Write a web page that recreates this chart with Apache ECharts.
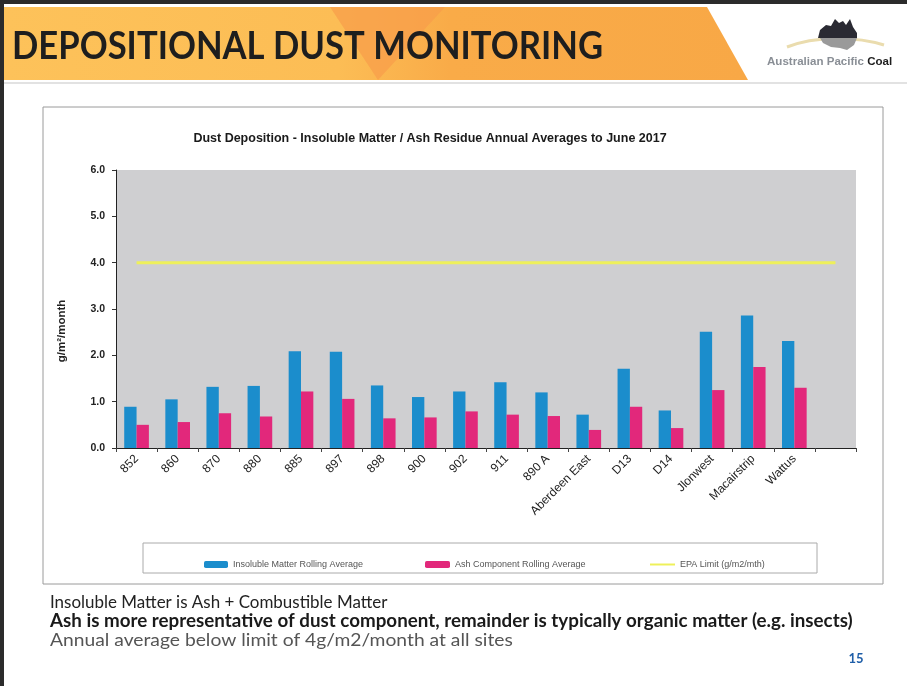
<!DOCTYPE html>
<html>
<head>
<meta charset="utf-8">
<script src="https://cdn.jsdelivr.net/npm/echarts@6/dist/echarts.min.js"></script>
<style>
html,body{margin:0;padding:0;background:#fff;}
#c{width:907px;height:686px;}
</style>
</head>
<body>
<div id="c"></div>
<script>
var categories = ['852','860','870','880','885','897','898','900','902','911','890 A','Aberdeen East','D13','D14','Jlonwest','Macairstrip','Wattus',''];
var insoluble = [0.89,1.05,1.32,1.34,2.09,2.08,1.35,1.10,1.22,1.42,1.20,0.72,1.71,0.81,2.51,2.86,2.31,null];
var ash = [0.50,0.56,0.75,0.68,1.22,1.06,0.64,0.66,0.79,0.72,0.69,0.39,0.89,0.43,1.25,1.75,1.30,null];
var epaLimit = [4,4,4,4,4,4,4,4,4,4,4,4,4,4,4,4,4,4];
var yTicks = [0,1,2,3,4,5,6];

var seriesNames = ['Insoluble Matter Rolling Average','Ash Component Rolling Average','EPA Limit (g/m2/mth)'];

var chart = echarts.init(document.getElementById('c'), null, {renderer:'canvas'});
var legendText = {fontSize:9, color:'#555', fontFamily:'Liberation Sans Narrow, Liberation Sans, Arial'};

var option = {
  backgroundColor:'#ffffff',
  animation:false,
  title:{
    text:'Dust Deposition - Insoluble Matter / Ash Residue Annual Averages to June 2017',
    left:425, top:127, textAlign:'center',
    textStyle:{fontSize:12.5, fontWeight:'bold', color:'#1a1a1a', fontFamily:'Liberation Sans, Arial'}
  },
  legend:[
    {data:[seriesNames[0]], left:199, top:555, itemWidth:24, itemHeight:7, itemGap:3, textStyle:legendText},
    {data:[seriesNames[1]], left:420, top:555, itemWidth:25, itemHeight:7, itemGap:3, textStyle:legendText},
    {data:[{name:seriesNames[2], icon:'rect'}], left:645, top:555, itemWidth:25, itemHeight:2, itemGap:3, textStyle:legendText}
  ],
  grid:{left:116, right:51, top:170, bottom:238, show:true, backgroundColor:'#cfcfd1', borderWidth:0},
  xAxis:{
    type:'category', data:categories, boundaryGap:true,
    axisLine:{lineStyle:{color:'#222', width:1}},
    axisTick:{show:true, length:4, interval:0, lineStyle:{color:'#444'}},
    axisLabel:{interval:0, rotate:45, fontSize:12, color:'#222', margin:9, fontFamily:'Liberation Sans, Arial'},
    splitLine:{show:false}
  },
  yAxis:{
    type:'value', min:0, max:6, interval:1,
    axisLine:{show:true, lineStyle:{color:'#222', width:1}},
    axisTick:{show:true, length:4, lineStyle:{color:'#333'}},
    axisLabel:{formatter:function(v){return v.toFixed(1);}, fontSize:10.5, fontWeight:'bold', color:'#222', margin:11, fontFamily:'Liberation Sans, Arial'},
    splitLine:{show:false}
  },
  series:[
    {name:seriesNames[0], type:'bar', data:insoluble, barWidth:'30%', barGap:'0%', itemStyle:{color:'#1b8dcc'}},
    {name:seriesNames[1], type:'bar', data:ash, barWidth:'30%', barGap:'0%', itemStyle:{color:'#e2287b'}},
    {name:seriesNames[2], type:'line', data:epaLimit, symbol:'none', z:5, lineStyle:{color:'#eef05a', width:3}, itemStyle:{color:'#eef05a'}}
  ],
  graphic:[
    // slide frame
    {type:'rect', shape:{x:0,y:0,width:907,height:4}, style:{fill:'#2b2b2b'}, silent:true},
    {type:'rect', shape:{x:0,y:0,width:4,height:686}, style:{fill:'#2b2b2b'}, silent:true},
    // banner
    {type:'polygon', shape:{points:[[4,7],[707,7],[748,80],[4,80]]}, style:{fill:{type:'linear',x:0,y:0,x2:1,y2:0,colorStops:[{offset:0,color:'#fdc25a'},{offset:0.45,color:'#fcbd55'},{offset:0.6,color:'#f9ab48'},{offset:1,color:'#f8a846'}]}}, silent:true},
    {type:'polygon', shape:{points:[[330,7],[445,7],[378,80]]}, style:{fill:'#f89d4a', opacity:0.7}, silent:true},
    {type:'rect', shape:{x:4,y:82,width:903,height:2}, style:{fill:'#e2e2e2'}, silent:true},
    {type:'text', x:12, y:47, scaleX:0.911, style:{text:'DEPOSITIONAL DUST MONITORING', fill:'#1e1e1e', font:'bold 38px Lato, "Open Sans", sans-serif', textAlign:'left', textVerticalAlign:'middle'}, silent:true},
    // logo
    {type:'bezierCurve', shape:{x1:787,y1:47,x2:884,y2:45,cpx1:815,cpy1:36,cpx2:855,cpy2:36}, style:{stroke:'#eadcae', lineWidth:3, fill:null}, silent:true},
    {type:'polygon', shape:{points:[[818,38],[820,30],[826,25],[831,26],[835,19],[839,23],[843,21],[846,25],[850,19],[853,27],[857,33],[857,38]]}, style:{fill:'#2a2a33'}, silent:true},
    {type:'polygon', shape:{points:[[820,38],[857,38],[854,45],[847,50],[840,48],[831,47],[823,43]]}, style:{fill:'#9a9a9a'}, silent:true},
    {type:'text', x:767, y:62, scaleX:1.1, style:{text:'{a|Australian Pacific }{b|Coal}', textVerticalAlign:'middle', rich:{a:{fontSize:10.5, fontWeight:'bold', fill:'#8a8f96', fontFamily:'Liberation Sans, Arial'}, b:{fontSize:10.5, fontWeight:'bold', fill:'#1e1e1e', fontFamily:'Liberation Sans, Arial'}}}, silent:true},
    // chart box
    {type:'rect', shape:{x:43,y:107,width:840,height:477}, style:{fill:null, stroke:'#9a9a9a', lineWidth:1}, silent:true, z:-1},
    {type:'rect', shape:{x:143,y:543,width:674,height:30}, style:{fill:null, stroke:'#aaaaaa', lineWidth:1}, silent:true},
    // y axis name
    {type:'text', x:62, y:331, rotation:Math.PI/2, style:{text:'g/m\u00b2/month', fill:'#222', font:'bold 11.5px "Liberation Sans", Arial', textAlign:'center', textVerticalAlign:'middle'}, silent:true},
    // notes
    {type:'text', x:50, y:602, scaleX:0.942, style:{text:'Insoluble Matter is Ash + Combustible Matter', fill:'#222', font:'18px Lato, "Open Sans", sans-serif', textAlign:'left', textVerticalAlign:'middle'}, silent:true},
    {type:'text', x:50, y:621, scaleX:1.043, style:{text:'Ash is more representative of dust component, remainder is typically organic matter (e.g. insects)', fill:'#1a1a1a', font:'bold 18px Lato, "Open Sans", sans-serif', textAlign:'left', textVerticalAlign:'middle'}, silent:true},
    {type:'text', x:50, y:640, scaleX:1.07, style:{text:'Annual average below limit of 4g/m2/month at all sites', fill:'#555', font:'18px Lato, "Open Sans", sans-serif', textAlign:'left', textVerticalAlign:'middle'}, silent:true},
    {type:'text', x:856, y:659, style:{text:'15', fill:'#1f5ea8', font:'bold 13px Lato, "Open Sans", sans-serif', textAlign:'center', textVerticalAlign:'middle'}, silent:true}
  ]
};
chart.setOption(option);
</script>
</body>
</html>
